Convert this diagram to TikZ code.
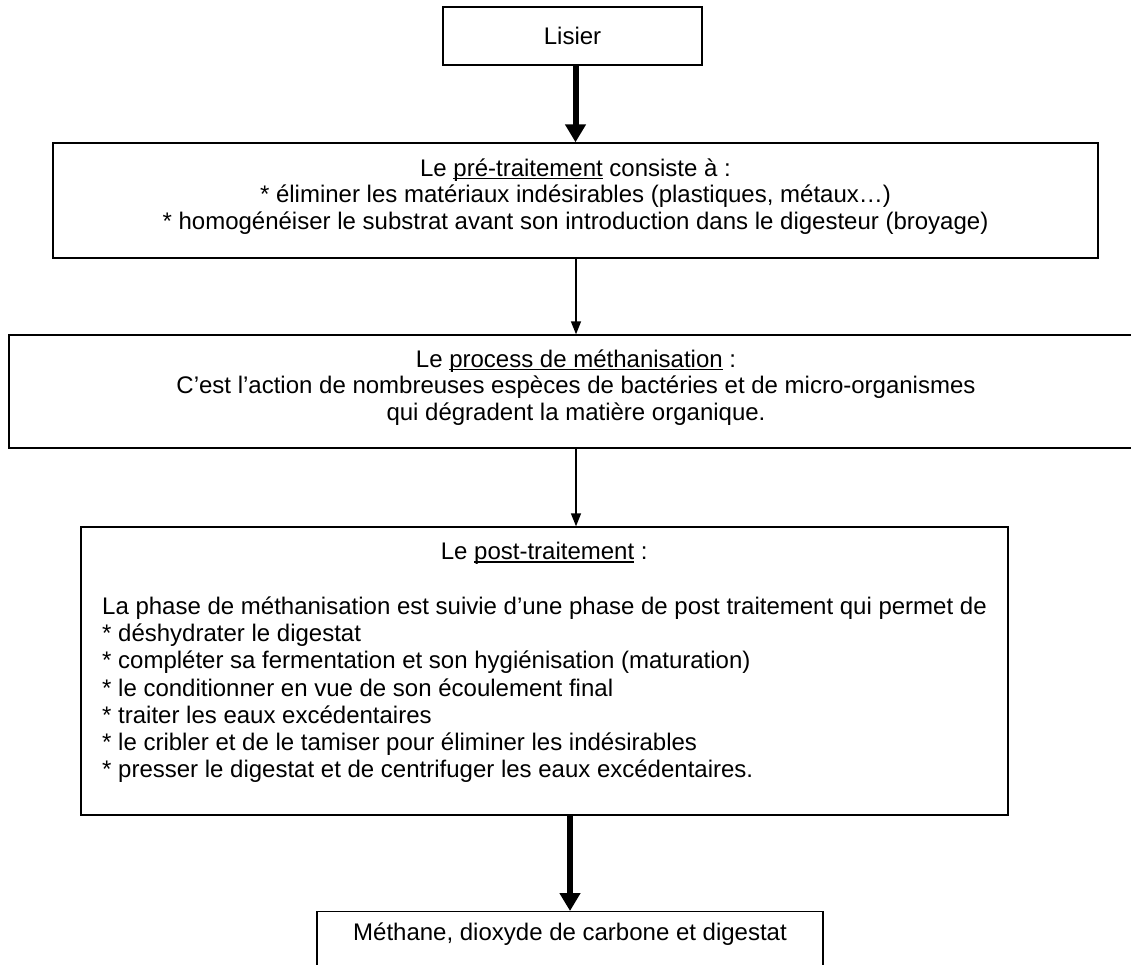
\documentclass[tikz,border=0pt]{standalone}
\usepackage{fontspec}
\setmainfont{Liberation Sans}
\usetikzlibrary{arrows.meta,calc}
\newcommand\myul[1]{\setbox0\hbox{#1}\rlap{\rule[-3pt]{\wd0}{1.2pt}}\box0\relax}
\begin{document}
\begin{tikzpicture}[x=1pt,y=-1pt,
  box/.style={draw, line width=1.4pt, inner sep=0pt},
  txt/.style={inner sep=0pt, align=center, font=\fontsize{24}{26.5}\selectfont},
  bigarrow/.style={line width=6pt, -{Triangle[width=20pt,length=18pt]}},
  smallarrow/.style={line width=1.5pt, -{Triangle[width=10pt,length=13pt]}}]
\useasboundingbox (0,0) rectangle (1131,965);
% boxes
\node[box, minimum width=259pt, minimum height=58pt] (lisier) at (572.5,36) {};
\node[box, minimum width=1045pt, minimum height=115pt] (pre) at (575.5,200.5) {};
\node[box, minimum width=1134pt, minimum height=113pt] (proc) at (576,391.5) {};
\node[box, minimum width=927pt, minimum height=288pt] (post) at (544.5,671) {};
\node[box, minimum width=506pt, minimum height=100pt, anchor=north] (final) at (570,911) {};
% texts
\node[txt] (lisiert) at (lisier.center) {Lisier};
\node[txt] (pret) at (575.5,196.5) {Le \myul{pré-traitement} consiste à :\\
* éliminer les matériaux indésirables (plastiques, métaux…)\\
* homogénéiser le substrat avant son introduction dans le digesteur (broyage)};
\node[txt] (proct) at (576,387.5) {Le \myul{process de méthanisation} :\\
C’est l’action de nombreuses espèces de bactéries et de micro-organismes\\
qui dégradent la matière organique.};
\node[txt, align=left, anchor=west, font=\fontsize{24}{27.3}\selectfont] (postt) at (102,662.5) {\makebox[884pt]{Le \myul{post-traitement} :}\\
\mbox{}\\
La phase de méthanisation est suivie d’une phase de post traitement qui permet de\\
* déshydrater le digestat\\
* compléter sa fermentation et son hygiénisation (maturation)\\
* le conditionner en vue de son écoulement final\\
* traiter les eaux excédentaires\\
* le cribler et de le tamiser pour éliminer les indésirables\\
* presser le digestat et de centrifuger les eaux excédentaires.};
\node[txt] (finalt) at ($(final.north)+(0,23)$) {Méthane, dioxyde de carbone et digestat};
% connectors
\draw[bigarrow] (pre.north |- lisier.south) -- (pre.north);
\draw[smallarrow] (proc.north |- pre.south) -- (proc.north);
\draw[smallarrow] (proc.south) -- (proc.south |- post.north);
\draw[bigarrow] (final.north |- post.south) -- (final.north);
\end{tikzpicture}
\end{document}
